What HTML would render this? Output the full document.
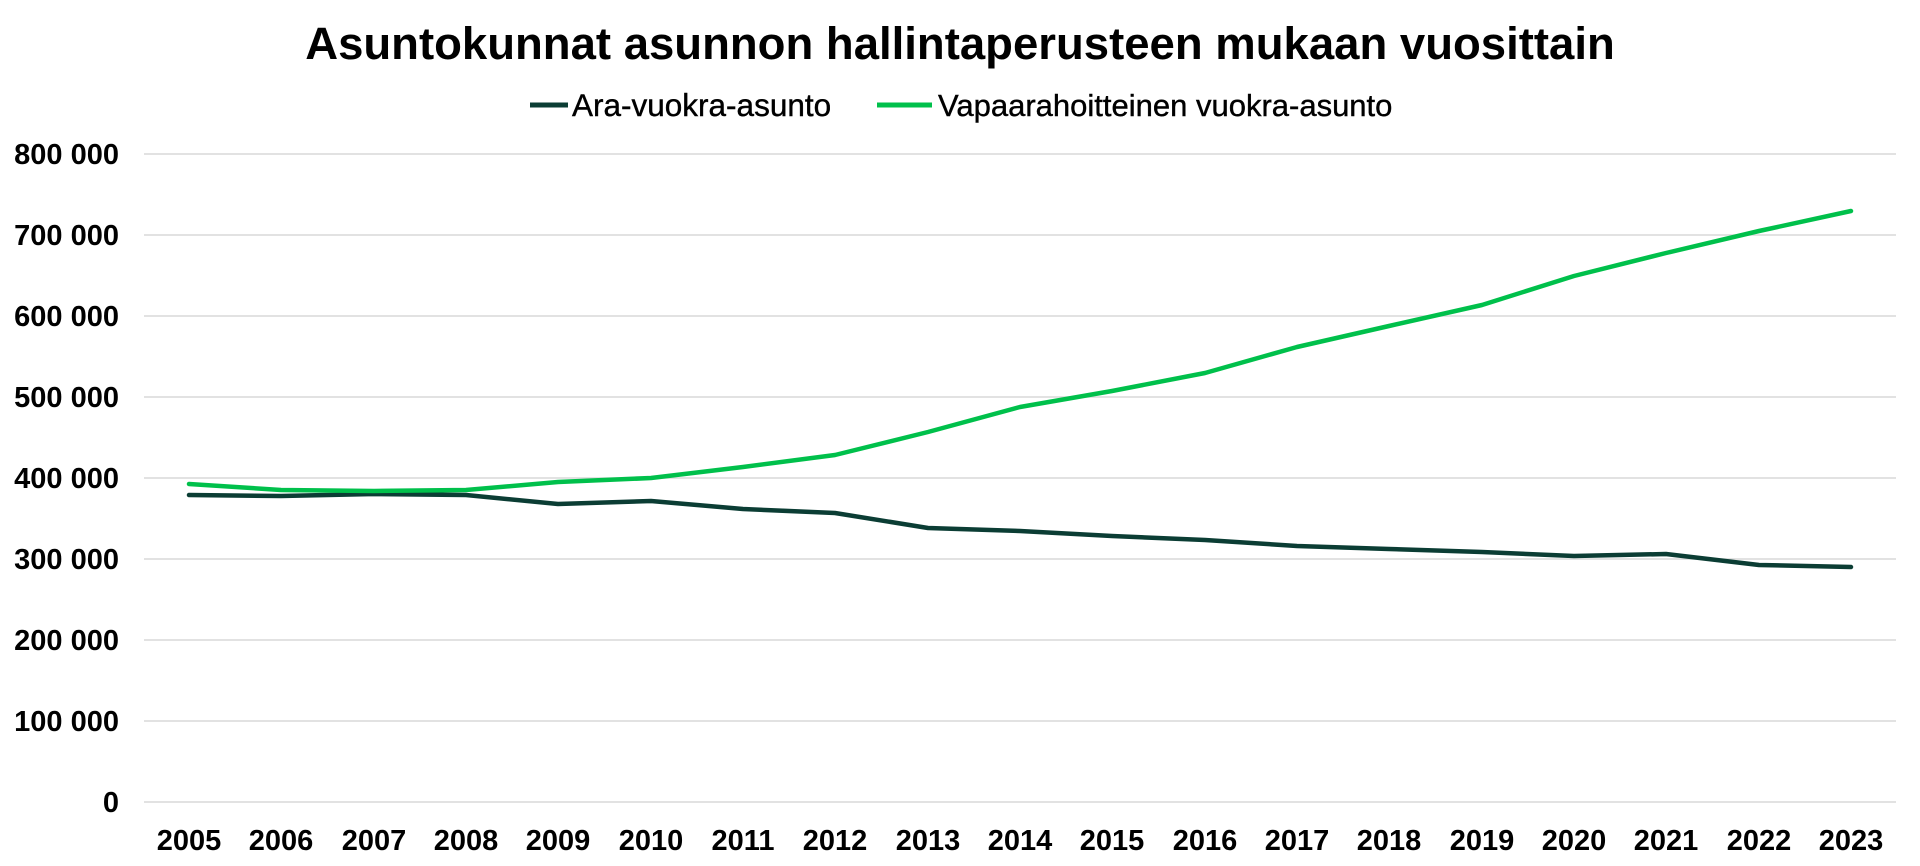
<!DOCTYPE html>
<html><head><meta charset="utf-8"><style>body{margin:0;background:#fff}svg{display:block}</style></head><body>
<svg width="1920" height="866" xmlns="http://www.w3.org/2000/svg" font-family="Liberation Sans, Arial, sans-serif">
<rect width="1920" height="866" fill="#fff"/>
<text x="960" y="59" text-anchor="middle" font-size="45.5" font-weight="bold" fill="#000">Asuntokunnat asunnon hallintaperusteen mukaan vuosittain</text>
<line x1="530" y1="105" x2="568" y2="105" stroke="#0b3d34" stroke-width="5"/>
<text x="572" y="116" font-size="31.5" fill="#000" stroke="#000" stroke-width="0.4">Ara-vuokra-asunto</text>
<line x1="877" y1="105" x2="932" y2="105" stroke="#00c04b" stroke-width="5"/>
<text x="938" y="116" font-size="31" fill="#000" stroke="#000" stroke-width="0.4">Vapaarahoitteinen vuokra-asunto</text>
<g stroke="#d9d9d9" stroke-width="1.5">
<line x1="144" x2="1896" y1="154" y2="154"/><line x1="144" x2="1896" y1="235" y2="235"/>
<line x1="144" x2="1896" y1="316" y2="316"/><line x1="144" x2="1896" y1="397" y2="397"/>
<line x1="144" x2="1896" y1="478" y2="478"/><line x1="144" x2="1896" y1="559" y2="559"/>
<line x1="144" x2="1896" y1="640" y2="640"/><line x1="144" x2="1896" y1="721" y2="721"/>
<line x1="144" x2="1896" y1="802" y2="802"/>
</g>
<g font-size="29" font-weight="bold" text-anchor="end" fill="#000">
<text x="119" y="164">800 000</text><text x="119" y="245">700 000</text><text x="119" y="326">600 000</text>
<text x="119" y="407">500 000</text><text x="119" y="488">400 000</text><text x="119" y="569">300 000</text>
<text x="119" y="650">200 000</text><text x="119" y="731">100 000</text><text x="119" y="812">0</text>
</g>
<g font-size="29" font-weight="bold" text-anchor="middle" fill="#000">
<text x="189" y="850">2005</text><text x="281" y="850">2006</text><text x="374" y="850">2007</text><text x="466" y="850">2008</text><text x="558" y="850">2009</text><text x="651" y="850">2010</text><text x="743" y="850">2011</text><text x="835" y="850">2012</text><text x="928" y="850">2013</text><text x="1020" y="850">2014</text><text x="1112" y="850">2015</text><text x="1205" y="850">2016</text><text x="1297" y="850">2017</text><text x="1389" y="850">2018</text><text x="1482" y="850">2019</text><text x="1574" y="850">2020</text><text x="1666" y="850">2021</text><text x="1759" y="850">2022</text><text x="1851" y="850">2023</text>
</g>
<polyline fill="none" stroke="#0b3d34" stroke-width="4.5" stroke-linejoin="round" stroke-linecap="round"
points="189,495 281,496 374,494 466,495 558,504 651,501 743,509 835,513 928,528 1020,531 1112,536 1205,540 1297,546 1389,549 1482,552 1574,556 1666,554 1759,565 1851,567"/>
<polyline fill="none" stroke="#00c04b" stroke-width="4.5" stroke-linejoin="round" stroke-linecap="round"
points="189,484 281,490 374,491 466,490 558,482 651,478 743,467 835,455 928,432 1020,407 1112,391 1205,373 1297,347 1389,326 1482,305 1574,276 1666,253 1759,231 1851,211"/>
</svg>
</body></html>
